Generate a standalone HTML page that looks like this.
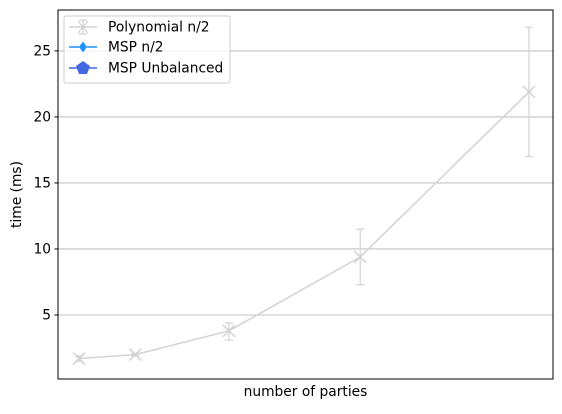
<!DOCTYPE html>
<html><head><meta charset="utf-8"><style>
body{margin:0;background:#fff}
svg text{font-family:"DejaVu Sans","Liberation Sans",sans-serif;font-size:13.8px;fill:#000}
</style></head><body>
<svg id="chart" width="562" height="409" viewBox="0 0 562 409" xmlns="http://www.w3.org/2000/svg">
<rect width="562" height="409" fill="#fff"/>
<g id="grid"></g>
<g id="yticks"></g>
<g id="series"></g>
<rect x="58" y="10" width="495" height="369" fill="none" stroke="#000" stroke-width="1"/>
<text x="305.5" y="396" text-anchor="middle">number of parties</text>
<text transform="translate(21,194.5) rotate(-90)" text-anchor="middle">time (ms)</text>
<g>
<rect x="64" y="16" width="166" height="67" rx="2" fill="#fff" fill-opacity="0.8" stroke="#ccc"/>
<g>
<line x1="69" y1="27" x2="97" y2="27" stroke="#d3d3d3" stroke-width="1.5"/>
<path d="M78,21L88,33M78,33L88,21M79,20H87M79,34H87M83,20V34" stroke="#d3d3d3" stroke-width="1.2" fill="none"/>
<text x="108" y="31.5">Polynomial n/2</text></g>
<g>
<line x1="69" y1="47" x2="97" y2="47" stroke="#1e90ff" stroke-width="1.5"/>
<line x1="83" y1="42" x2="83" y2="52" stroke="#1e90ff" stroke-width="1.5"/>
<ellipse cx="83" cy="47" rx="3" ry="4" fill="#1e90ff"/>
<text x="108" y="51.5">MSP n/2</text></g>
<g>
<line x1="69" y1="68" x2="97" y2="68" stroke="#4169e1" stroke-width="1.5"/>
<polygon points="83,61 90,66 87,74 79,74 76,66" fill="#4169e1"/>
<text x="108" y="72.5">MSP Unbalanced</text></g>
</g>
</svg>
<script>
const xValues=[1,2.5,5,8.5,13];
const yValues=[1.7,2.0,3.8,9.4,21.9];
const yLow=[1.5,1.9,3.1,7.3,17.0];
const yHigh=[1.9,2.1,4.4,11.5,26.8];
const yTicks=[5,10,15,20,25];
const NS="http://www.w3.org/2000/svg";
const L=58,R=553,T=10,B=379;
const xMin=0.44,xMax=13.64,yMin=0.15,yMax=28.1;
function X(v){return L+(v-xMin)/(xMax-xMin)*(R-L);}
function Y(v){return B-(v-yMin)/(yMax-yMin)*(B-T);}
function mk(tag,attrs,parent){const e=document.createElementNS(NS,tag);for(const k in attrs)e.setAttribute(k,attrs[k]);parent.appendChild(e);return e;}
const grid=document.getElementById('grid'),yt=document.getElementById('yticks'),s=document.getElementById('series');
yTicks.forEach(t=>{const y=Y(t);
const g=mk('line',{x1:L,x2:R,y1:y,y2:y,stroke:'#b0b0b0','stroke-width':0.8},grid);


const tk=mk('line',{x1:L-3.5,x2:L,y1:y,y2:y,stroke:'#000'},yt);


const tx=mk('text',{x:L-7,y:y+4.5,'text-anchor':'end'},yt);tx.textContent=t;


});
const c='#d3d3d3';
const ln=mk('polyline',{points:xValues.map((x,i)=>X(x)+','+Y(yValues[i])).join(' '),fill:'none',stroke:c,'stroke-width':1.5},s);


xValues.forEach((x,i)=>{const px=X(x),py=Y(yValues[i]),lo=Y(yLow[i]),hi=Y(yHigh[i]);
const eb=mk('path',{d:`M${px},${hi}V${lo}M${px-4},${hi}H${px+4}M${px-4},${lo}H${px+4}`,stroke:c,'stroke-width':1.2,fill:'none'},s);


const m=mk('path',{d:`M${px-6},${py-6}L${px+6},${py+6}M${px-6},${py+6}L${px+6},${py-6}`,stroke:c,'stroke-width':1.5,fill:'none'},s);


});
</script>
</body></html>
